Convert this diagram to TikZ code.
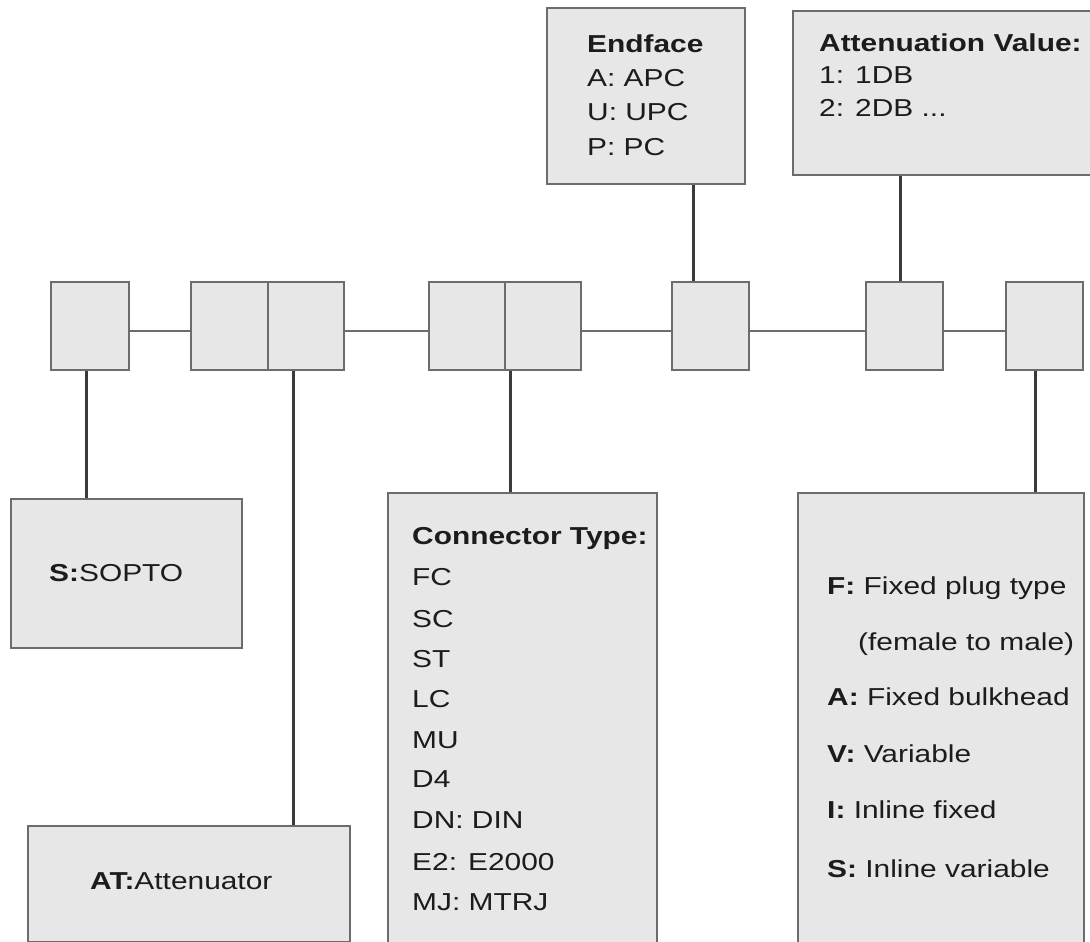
\documentclass[tikz,border=0pt]{standalone}
\usepackage{fontspec}
\setmainfont{Liberation Sans}[FakeStretch=1.22]
\definecolor{boxfill}{HTML}{E7E7E7}
\definecolor{boxline}{HTML}{6C6C6C}
\definecolor{conline}{HTML}{3A3A3A}
\definecolor{txt}{HTML}{1C1C1C}
\tikzset{
  box/.style={draw=boxline, line width=2.2pt, fill=boxfill, anchor=north west, inner sep=0pt},
  vcon/.style={draw=conline, line width=3pt},
  hcon/.style={draw=boxline, line width=2.4pt},
  lbl/.style={anchor=base west, inner sep=0pt, text=txt, font=\fontsize{24.5}{28}\selectfont},
}
\begin{document}
\begin{tikzpicture}[x=1pt,y=-1pt]
\clip (0,0) rectangle (1090,942);
\fill[white] (0,0) rectangle (1090,942);
% chain boxes
\node[box, minimum width=78pt, minimum height=88pt] (b1) at (50,281) {};
\node[box, minimum width=77pt, minimum height=88pt] (b2a) at (190,281) {};
\node[box, minimum width=76pt, minimum height=88pt] (b2b) at (267,281) {};
\node[box, minimum width=76pt, minimum height=88pt] (b3a) at (428,281) {};
\node[box, minimum width=76pt, minimum height=88pt] (b3b) at (504,281) {};
\node[box, minimum width=77pt, minimum height=88pt] (b4) at (671,281) {};
\node[box, minimum width=77pt, minimum height=88pt] (b5) at (865,281) {};
\node[box, minimum width=77pt, minimum height=88pt] (b6) at (1005,281) {};
% description boxes
\node[box, minimum width=198pt, minimum height=176pt] (endf) at (546,7) {};
\node[box, minimum width=298pt, minimum height=164pt] (attv) at (792,10) {};
\node[box, minimum width=231pt, minimum height=149pt] (sopto) at (10,498) {};
\node[box, minimum width=269pt, minimum height=470pt] (ctype) at (387,492) {};
\node[box, minimum width=286pt, minimum height=470pt] (vtype) at (797,492) {};
\node[box, minimum width=322pt, minimum height=116pt] (atten) at (27,825) {};
% horizontal links
\draw[hcon] (b1.east |- 0,331) -- (b2a.west |- 0,331);
\draw[hcon] (b2b.east |- 0,331) -- (b3a.west |- 0,331);
\draw[hcon] (b3b.east |- 0,331) -- (b4.west |- 0,331);
\draw[hcon] (b4.east |- 0,331) -- (b5.west |- 0,331);
\draw[hcon] (b5.east |- 0,331) -- (b6.west |- 0,331);
% vertical links
\draw[vcon] (86,0 |- b1.south) -- (86,0 |- sopto.north);
\draw[vcon] (293,0 |- b2b.south) -- (293,0 |- atten.north);
\draw[vcon] (510,0 |- b3b.south) -- (510,0 |- ctype.north);
\draw[vcon] (693,0 |- b4.north) -- (693,0 |- endf.south);
\draw[vcon] (900,0 |- b5.north) -- (900,0 |- attv.south);
\draw[vcon] (1035,0 |- b6.south) -- (1035,0 |- vtype.north);
% texts: endface
\node[lbl] (e0) at (587,53) {\textbf{Endface}};
\node[lbl] (e1) at (587,86) {A: APC};
\node[lbl] (e2) at (587,121) {U: UPC};
\node[lbl] (e3) at (587,155) {P: PC};
% attenuation value
\node[lbl] (a0) at (819,52) {\textbf{Attenuation Value:}};
\node[lbl] (a1) at (819,84) {1: 1DB};
\node[lbl] (a2) at (819,116) {2: 2DB ...};
% sopto / attenuator
\node[lbl] (s0) at (49,581) {\textbf{S:}SOPTO};
\node[lbl] (t0) at (90,889) {\textbf{AT:}Attenuator};
% connector type
\node[lbl] (c0) at (412,544) {\textbf{Connector Type:}};
\node[lbl] (c1) at (412,585) {FC};
\node[lbl] (c2) at (412,627) {SC};
\node[lbl] (c3) at (412,667) {ST};
\node[lbl] (c4) at (412,707) {LC};
\node[lbl] (c5) at (412,748) {MU};
\node[lbl] (c6) at (412,787) {D4};
\node[lbl] (c7) at (412,828) {DN: DIN};
\node[lbl] (c8) at (412,870) {E2: E2000};
\node[lbl] (c9) at (412,910) {MJ: MTRJ};
% variant type
\node[lbl] (v1) at (827,594) {\textbf{F:} Fixed plug type};
\node[lbl] (v2) at (858,650) {(female to male)};
\node[lbl] (v3) at (827,705) {\textbf{A:} Fixed bulkhead};
\node[lbl] (v4) at (827,762) {\textbf{V:} Variable};
\node[lbl] (v5) at (827,818) {\textbf{I:} Inline fixed};
\node[lbl] (v6) at (827,877) {\textbf{S:} Inline variable};
\end{tikzpicture}
\end{document}
